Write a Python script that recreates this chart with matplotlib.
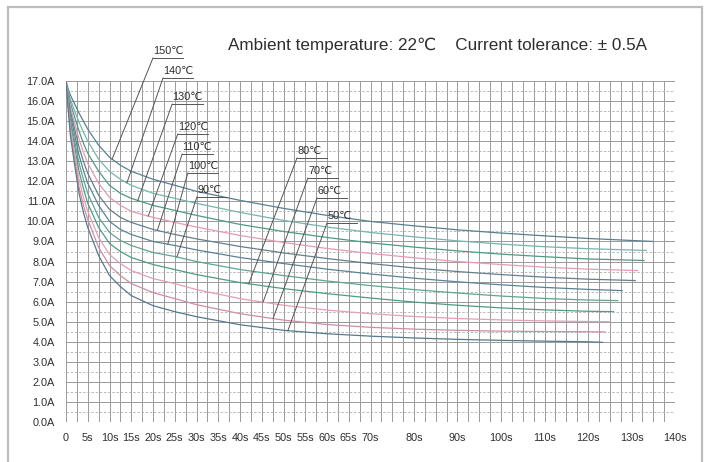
import numpy as np
import matplotlib
matplotlib.use("Agg")
import matplotlib.pyplot as plt
from matplotlib.patches import Rectangle

plt.rcParams['font.family'] = ['Liberation Sans', 'DejaVu Sans']

# ---------------- data ----------------
temps = ["150℃", "140℃", "130℃", "120℃", "110℃", "100℃", "90℃", "80℃", "70℃", "60℃", "50℃"]
t_common = [0, 0.5, 1, 2, 3, 4, 5, 7.5, 10, 12.5, 15, 20, 25, 30, 40, 50, 60, 70, 80, 90, 100, 110, 120]
end_time = [135, 133.5, 133, 131.5, 131, 128, 127, 126, 125, 124, 123.5]

c150 = [17, 16.6, 16.3, 15.85, 15.4, 15.0, 14.6, 13.8, 13.2, 12.8, 12.5, 12.1, 11.8, 11.5, 11.05, 10.65, 10.3, 10.0, 9.78, 9.58, 9.42, 9.28, 9.15, 9.0]
c140 = [17, 16.5, 16.1, 15.5, 14.95, 14.45, 14.0, 13.1, 12.5, 12.1, 11.8, 11.4, 11.15, 10.9, 10.45, 10.05, 9.72, 9.45, 9.23, 9.03, 8.87, 8.74, 8.64, 8.55]
c130 = [17, 16.4, 15.9, 15.2, 14.5, 13.9, 13.4, 12.5, 11.8, 11.4, 11.15, 10.8, 10.55, 10.3, 9.85, 9.5, 9.2, 8.93, 8.72, 8.53, 8.37, 8.24, 8.13, 8.05]
c120 = [17, 16.3, 15.7, 14.9, 14.1, 13.45, 12.9, 11.9, 11.2, 10.8, 10.5, 10.2, 9.95, 9.72, 9.3, 8.95, 8.65, 8.4, 8.19, 8.0, 7.85, 7.72, 7.62, 7.55]
c110 = [17, 16.2, 15.5, 14.6, 13.7, 13.0, 12.4, 11.3, 10.6, 10.2, 9.95, 9.6, 9.35, 9.13, 8.75, 8.43, 8.15, 7.9, 7.68, 7.5, 7.35, 7.22, 7.12, 7.05]
c100 = [17, 16.1, 15.3, 14.3, 13.3, 12.55, 11.9, 10.8, 10.0, 9.6, 9.35, 9.0, 8.8, 8.58, 8.2, 7.9, 7.62, 7.38, 7.17, 6.99, 6.84, 6.71, 6.61, 6.55]
c90 = [17, 16.0, 15.1, 14.0, 12.9, 12.1, 11.4, 10.2, 9.45, 9.05, 8.8, 8.45, 8.25, 8.0, 7.6, 7.3, 7.03, 6.8, 6.6, 6.43, 6.28, 6.16, 6.08, 6.05]
c80 = [17, 15.9, 14.9, 13.7, 12.5, 11.65, 10.9, 9.7, 8.9, 8.5, 8.2, 7.85, 7.6, 7.35, 6.95, 6.65, 6.4, 6.18, 5.98, 5.82, 5.69, 5.59, 5.52, 5.5]
c70 = [17, 15.8, 14.7, 13.4, 12.1, 11.2, 10.5, 9.2, 8.35, 7.9, 7.55, 7.15, 6.9, 6.6, 6.15, 5.82, 5.58, 5.4, 5.26, 5.16, 5.09, 5.04, 5.01, 5.0]
c60 = [17, 15.7, 14.5, 13.1, 11.7, 10.8, 10.1, 8.7, 7.8, 7.3, 6.9, 6.45, 6.15, 5.85, 5.4, 5.08, 4.86, 4.72, 4.63, 4.57, 4.53, 4.51, 4.5, 4.49]
c50 = [17, 15.6, 14.3, 12.8, 11.4, 10.45, 9.7, 8.3, 7.3, 6.75, 6.3, 5.8, 5.5, 5.25, 4.85, 4.57, 4.4, 4.28, 4.19, 4.12, 4.07, 4.03, 4.0, 3.97]
curves = [c150, c140, c130, c120, c110, c100, c90, c80, c70, c60, c50]

x_ticks = [0, 5, 10, 15, 20, 25, 30, 35, 40, 45, 50, 55, 60, 65, 70, 80, 90, 100, 110, 120, 130, 140]
x_labels = ["0"] + [f"{v}s" for v in x_ticks[1:]]
y_ticks = list(range(0, 18))
y_labels = [f"{v:.1f}A" for v in y_ticks]

# ---------------- styling / layout ----------------
colors = ["#587f92", "#76b5aa", "#4f9a86", "#e59bb0", "#667f8c", "#5a8396",
          "#5fa592", "#4f9c86", "#e3a0b2", "#cf8ea2", "#55798f"]
# label anchor (left end of underline) in data coords, leader target time
label_pos = [(20.0, 18.15), (22.3, 17.15), (24.4, 15.85), (25.7, 14.36), (26.7, 13.36),
             (28.0, 12.41), (30.1, 11.22), (53.1, 13.16), (55.6, 12.16), (57.7, 11.17), (60.0, 9.92)]
leader_t = [10.6, 14, 16.5, 18.9, 21, 23.4, 25.5, 42, 45.3, 47.6, 51]

W, H = 705, 462
fig = plt.figure(figsize=(W / 100, H / 100), dpi=100)
fig.patch.set_facecolor("white")
fig.patches.append(Rectangle((8 / W, -0.05), (702 - 8) / W, (H - 7) / H + 0.05,
                             transform=fig.transFigure, fill=False,
                             edgecolor="#bdbdbd", linewidth=1.6))

ax = fig.add_axes([66 / W, (H - 422) / H, (675 - 66) / W, (422 - 81) / H])
ax.set_xlim(0, 140)
ax.set_ylim(0, 17)

# grid
for xv in np.arange(0, 140.01, 2.5):
    ax.axvline(xv, color="#9a9a9a", lw=0.7, zorder=1)
for yv in np.arange(0, 17.01, 1):
    ax.axhline(yv, color="#9a9a9a", lw=0.7, zorder=1)
for yv in np.arange(0.5, 17, 1):
    ax.axhline(yv, color="#b0b0b0", lw=0.6, ls=(0, (3, 2)), zorder=1)

for s in ax.spines.values():
    s.set_visible(False)

ax.set_xticks(x_ticks)
ax.set_xticklabels(x_labels)
ax.set_yticks(y_ticks)
ax.set_yticklabels(y_labels)
ax.tick_params(length=0, labelsize=7.8, colors="#2e2e2e")
ax.tick_params(axis="x", pad=8)
ax.tick_params(axis="y", pad=8)

for vals, et, col in zip(curves, end_time, colors):
    ts = t_common + [et]
    ax.plot(ts, vals, color=col, lw=0.9, zorder=3, solid_capstyle="butt")

# labels with underline and leader
ul_len = 7.0
for name, vals, et, (lx, ly), lt in zip(temps, curves, end_time, label_pos, leader_t):
    ts = t_common + [et]
    ty = float(np.interp(lt, ts, vals))
    ax.plot([lx, lx + ul_len], [ly, ly], color="#555555", lw=0.7, clip_on=False, zorder=4)
    ax.plot([lx, lt], [ly, ty], color="#555555", lw=0.7, clip_on=False, zorder=4)
    ax.text(lx + 0.1, ly + 0.12, name, fontsize=7.8, color="#2e2e2e",
            ha="left", va="bottom", clip_on=False, zorder=5)

fig.text(0.62, 1 - 45 / H, "Ambient temperature: 22℃    Current tolerance: ± 0.5A",
         fontsize=12.3, color="#2e2e2e", ha="center", va="center")

fig.savefig("out.png", dpi=100, facecolor="white")
